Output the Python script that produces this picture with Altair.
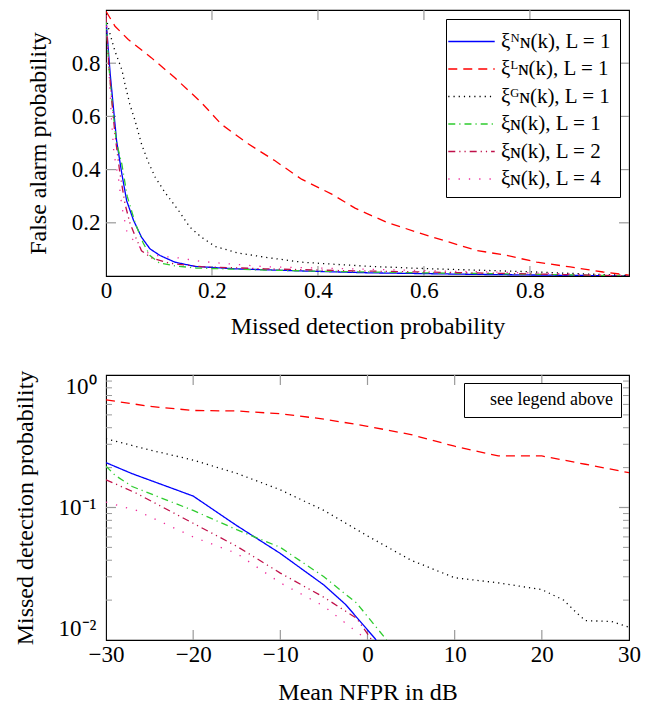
import altair as alt
import pandas as pd

FONT = "Liberation Serif"
TICK = "#9a9a9a"

# ---------------- series definitions ----------------
series_names = ["ξᴺɴ(k), L = 1", "ξᴸɴ(k), L = 1", "ξᴳɴ(k), L = 1",
                "ξɴ(k), L = 1", "ξɴ(k), L = 2", "ξɴ(k), L = 4"]
series_colors = ["#0000ff", "#ff0000", "#000000", "#2ecc2e", "#c0104a", "#f0289a"]
series_dashes = [[1, 0], [9, 6], [1.2, 4], [7, 4, 1.2, 4], [7, 4, 1.2, 4, 1.2, 4], [1.3, 9]]

# ---------------- top plot: false alarm vs missed detection ----------------
md_nn = [0, 0.008, 0.014, 0.02, 0.03, 0.039, 0.052, 0.067, 0.083, 0.102, 0.13, 0.168, 0.243, 0.369, 0.495, 0.7, 0.987]
fa_nn = [0.964, 0.758, 0.633, 0.508, 0.383, 0.283, 0.209, 0.146, 0.102, 0.077, 0.052, 0.036, 0.027, 0.019, 0.012, 0.006, 0.0]

md_l = [0, 0.017, 0.042, 0.086, 0.13, 0.18, 0.218, 0.269, 0.319, 0.369, 0.426, 0.47, 0.5, 0.53, 0.586, 0.643, 0.7, 0.756, 0.813, 0.876, 0.938, 0.987]
fa_l = [0.995, 0.939, 0.889, 0.82, 0.745, 0.652, 0.57, 0.496, 0.433, 0.364, 0.308, 0.255, 0.228, 0.202, 0.165, 0.13, 0.096, 0.0775, 0.052, 0.034, 0.015, 0.003]

md_g = [0, 0.008, 0.017, 0.03, 0.036, 0.045, 0.055, 0.067, 0.08, 0.093, 0.111, 0.137, 0.158, 0.18, 0.206, 0.25, 0.306, 0.369, 0.432, 0.5, 0.6, 0.7, 0.8, 0.9, 0.987]
fa_g = [0.97, 0.907, 0.845, 0.775, 0.72, 0.645, 0.583, 0.496, 0.427, 0.371, 0.315, 0.246, 0.184, 0.146, 0.111, 0.086, 0.069, 0.052, 0.044, 0.036, 0.028, 0.022, 0.016, 0.008, 0.002]

md_n1 = [0, 0.005, 0.012, 0.02, 0.03, 0.04, 0.055, 0.07, 0.083, 0.1, 0.13, 0.17, 0.25, 0.4, 0.6, 0.8, 0.987]
fa_n1 = [0.97, 0.8, 0.64, 0.5, 0.42, 0.3, 0.2, 0.125, 0.077, 0.05, 0.038, 0.03, 0.025, 0.018, 0.012, 0.007, 0.0]

md_n2 = [0, 0.005, 0.01, 0.017, 0.026, 0.036, 0.045, 0.055, 0.067, 0.086, 0.12, 0.18, 0.3, 0.45, 0.6, 0.8, 0.987]
fa_n2 = [0.98, 0.8, 0.68, 0.53, 0.39, 0.27, 0.2, 0.15, 0.095, 0.068, 0.048, 0.035, 0.027, 0.02, 0.015, 0.008, 0.0]

md_n4 = [0, 0.005, 0.01, 0.015, 0.024, 0.03, 0.039, 0.055, 0.074, 0.1, 0.137, 0.18, 0.224, 0.3, 0.4, 0.5, 0.6, 0.7, 0.8, 0.9, 0.987]
fa_n4 = [0.98, 0.8, 0.6, 0.46, 0.36, 0.26, 0.17, 0.125, 0.09, 0.075, 0.068, 0.055, 0.047, 0.035, 0.03, 0.025, 0.02, 0.016, 0.012, 0.006, 0.0]

# ---------------- bottom plot: missed detection vs mean NFPR ----------------
nf_nn = [-30, -27, -20, -15, -10, -5, -2.5, 1]
mp_nn = [0.218, 0.18, 0.122, 0.073, 0.045, 0.026, 0.0185, 0.01]

nf_l = [-30, -25, -20, -15, -10, -5, 0, 5, 10, 15, 20, 25, 30]
mp_l = [0.65, 0.58, 0.54, 0.535, 0.51, 0.465, 0.41, 0.355, 0.29, 0.245, 0.245, 0.212, 0.183]

nf_g = [-30, -25, -20, -15, -10, -5, 0, 5, 10, 15, 20, 22.5, 24, 25, 28, 30]
mp_g = [0.33, 0.272, 0.228, 0.181, 0.136, 0.095, 0.061, 0.040, 0.0295, 0.027, 0.024, 0.02, 0.016, 0.014, 0.0138, 0.0125]

nf_n1 = [-30, -29, -27, -20, -15, -10, -5, -1.25, 2.2]
mp_n1 = [0.205, 0.176, 0.144, 0.095, 0.068, 0.05, 0.03, 0.019, 0.01]

nf_n2 = [-30, -26.5, -20, -15, -10, -5, -1.25, 0.5]
mp_n2 = [0.162, 0.128, 0.076, 0.051, 0.032, 0.021, 0.0146, 0.01]

nf_n4 = [-30, -26.5, -20, -15, -10, -5, -2, 0]
mp_n4 = [0.11, 0.095, 0.060, 0.045, 0.027, 0.018, 0.0126, 0.01]

# tick values
top_x_ticks = [0, 0.2, 0.4, 0.6, 0.8]
top_y_ticks = [0.2, 0.4, 0.6, 0.8]
bot_x_ticks = [-30, -20, -10, 0, 10, 20, 30]
bot_y_ticks = [1, 0.1, 0.01]
bot_y_minor = [0.02, 0.03, 0.04, 0.05, 0.06, 0.07, 0.08, 0.09, 0.2, 0.3, 0.4, 0.5, 0.6, 0.7, 0.8, 0.9]
note_text = ["see legend above"]


def long_df(pairs):
    rows = []
    for name, xs, ys in pairs:
        for i, (a, b) in enumerate(zip(xs, ys)):
            rows.append({"series": name, "x": a, "y": b, "i": i})
    return pd.DataFrame(rows)


top_df = long_df(zip(series_names, [md_nn, md_l, md_g, md_n1, md_n2, md_n4],
                     [fa_nn, fa_l, fa_g, fa_n1, fa_n2, fa_n4]))
bot_df = long_df(zip(series_names, [nf_nn, nf_l, nf_g, nf_n1, nf_n2, nf_n4],
                     [mp_nn, mp_l, mp_g, mp_n1, mp_n2, mp_n4]))

W, H1, H2 = 523, 266, 265
MAJ, MIN = 10, 6

color_scale = alt.Scale(domain=series_names, range=series_colors)
dash_scale = alt.Scale(domain=series_names, range=series_dashes)

# ---------------- top chart ----------------
xs_top = alt.Scale(domain=[0, 0.987], nice=False, zero=False)
ys_top = alt.Scale(domain=[0, 1], nice=False, zero=False)
ax_x_top = alt.Axis(values=top_x_ticks, format=".1~f", title="Missed detection probability",
                    labelPadding=3, titlePadding=12, labelFlush=False)
ax_y_top = alt.Axis(values=top_y_ticks, format=".1f", title="False alarm probability",
                    labelPadding=6, titlePadding=21)

legend_top = alt.Legend(title=None, orient="top-right", offset=9,
                        symbolType="M-1.72,0H1.72", symbolSize=729, symbolStrokeWidth=1.3,
                        symbolOffset=3, labelOffset=15, padding=8, rowPadding=2.5,
                        labelFont=FONT, labelFontSize=21, labelColor="black",
                        strokeColor="black", fillColor="white", cornerRadius=0,
                        labelLimit=300)

top_lines = alt.Chart(top_df).mark_line(strokeWidth=1.3, clip=True).encode(
    x=alt.X("x:Q", scale=xs_top, axis=ax_x_top),
    y=alt.Y("y:Q", scale=ys_top, axis=ax_y_top),
    color=alt.Color("series:N", scale=color_scale, legend=legend_top),
    strokeDash=alt.StrokeDash("series:N", scale=dash_scale, legend=legend_top),
    order="i:Q",
)

tx_df = pd.DataFrame({"x": top_x_ticks[1:]})
ty_df = pd.DataFrame({"y": top_y_ticks})
top_xb = alt.Chart(tx_df).mark_rule(color=TICK, strokeWidth=1.2).encode(
    x=alt.X("x:Q", scale=xs_top, axis=ax_x_top), y=alt.value(H1 - MAJ), y2=alt.value(H1))
top_xt = alt.Chart(tx_df).mark_rule(color=TICK, strokeWidth=1.2).encode(
    x=alt.X("x:Q", scale=xs_top, axis=ax_x_top), y=alt.value(0), y2=alt.value(MAJ))
top_yl = alt.Chart(ty_df).mark_rule(color=TICK, strokeWidth=1.2).encode(
    y=alt.Y("y:Q", scale=ys_top, axis=ax_y_top), x=alt.value(0), x2=alt.value(MAJ))
top_yr = alt.Chart(ty_df).mark_rule(color=TICK, strokeWidth=1.2).encode(
    y=alt.Y("y:Q", scale=ys_top, axis=ax_y_top), x=alt.value(W - MAJ), x2=alt.value(W))

top = alt.layer(top_xb, top_xt, top_yl, top_yr, top_lines).properties(width=W, height=H1)

# ---------------- bottom chart ----------------
xs_bot = alt.Scale(domain=[-30, 30], nice=False, zero=False)
ys_bot = alt.Scale(type="log", domain=[0.01, 1], nice=False)
ax_x_bot = alt.Axis(values=bot_x_ticks, format="d", title="Mean NFPR in dB",
                    labelPadding=3, titlePadding=14, labelFlush=False)
ax_y_bot = alt.Axis(values=bot_y_ticks, title="Missed detection probability",
                    labelExpr="datum.value >= 0.5 ? '10⁰' : (datum.value >= 0.05 ? '10⁻¹' : '10⁻²')",
                    labelFlush=True, labelPadding=10, titlePadding=21)

bot_lines = alt.Chart(bot_df).mark_line(strokeWidth=1.3, clip=True).encode(
    x=alt.X("x:Q", scale=xs_bot, axis=ax_x_bot),
    y=alt.Y("y:Q", scale=ys_bot, axis=ax_y_bot),
    color=alt.Color("series:N", scale=color_scale, legend=None),
    strokeDash=alt.StrokeDash("series:N", scale=dash_scale, legend=None),
    order="i:Q",
)

bx_df = pd.DataFrame({"x": bot_x_ticks[1:-1]})
by_df = pd.DataFrame({"y": [0.1]})
bym_df = pd.DataFrame({"y": bot_y_minor})
bot_xb = alt.Chart(bx_df).mark_rule(color=TICK, strokeWidth=1.2).encode(
    x=alt.X("x:Q", scale=xs_bot, axis=ax_x_bot), y=alt.value(H2 - MAJ), y2=alt.value(H2))
bot_xt = alt.Chart(bx_df).mark_rule(color=TICK, strokeWidth=1.2).encode(
    x=alt.X("x:Q", scale=xs_bot, axis=ax_x_bot), y=alt.value(0), y2=alt.value(MAJ))
bot_yl = alt.Chart(by_df).mark_rule(color=TICK, strokeWidth=1.2).encode(
    y=alt.Y("y:Q", scale=ys_bot, axis=ax_y_bot), x=alt.value(0), x2=alt.value(MAJ))
bot_yr = alt.Chart(by_df).mark_rule(color=TICK, strokeWidth=1.2).encode(
    y=alt.Y("y:Q", scale=ys_bot, axis=ax_y_bot), x=alt.value(W - MAJ), x2=alt.value(W))
bot_ml = alt.Chart(bym_df).mark_rule(color=TICK, strokeWidth=1.0).encode(
    y=alt.Y("y:Q", scale=ys_bot, axis=ax_y_bot), x=alt.value(0), x2=alt.value(MIN))
bot_mr = alt.Chart(bym_df).mark_rule(color=TICK, strokeWidth=1.0).encode(
    y=alt.Y("y:Q", scale=ys_bot, axis=ax_y_bot), x=alt.value(W - MIN), x2=alt.value(W))

note_legend = alt.Legend(title=None, orient="top-right", offset=8,
                         symbolSize=0, symbolOpacity=0, symbolStrokeWidth=0,
                         labelOffset=0, padding=8, labelFont=FONT, labelFontSize=18,
                         labelColor="black", strokeColor="black", fillColor="white",
                         cornerRadius=0)
note = alt.Chart(pd.DataFrame({"note": note_text})).mark_point(opacity=0).encode(
    shape=alt.Shape("note:N", legend=note_legend))

bottom = alt.layer(bot_xb, bot_xt, bot_yl, bot_yr, bot_ml, bot_mr, bot_lines, note).properties(
    width=W, height=H2)

PAD = {"left": 4, "top": 0, "right": 5, "bottom": 5}

chart = alt.vconcat(top, bottom, spacing=30).resolve_scale(
    color="independent", strokeDash="independent", shape="independent",
    x="independent", y="independent"
).resolve_legend(
    color="independent", strokeDash="independent", shape="independent"
).properties(
    padding=PAD
).configure(
    padding=PAD, font=FONT
).configure_view(
    stroke="black", strokeWidth=1.1
).configure_axis(
    grid=False, ticks=False, domain=False,
    labelFont=FONT, labelFontSize=23, labelColor="black",
    titleFont=FONT, titleFontSize=24, titleFontWeight="normal", titleColor="black",
)

chart.save("out.html", embed_options={"renderer": "svg", "actions": False})
